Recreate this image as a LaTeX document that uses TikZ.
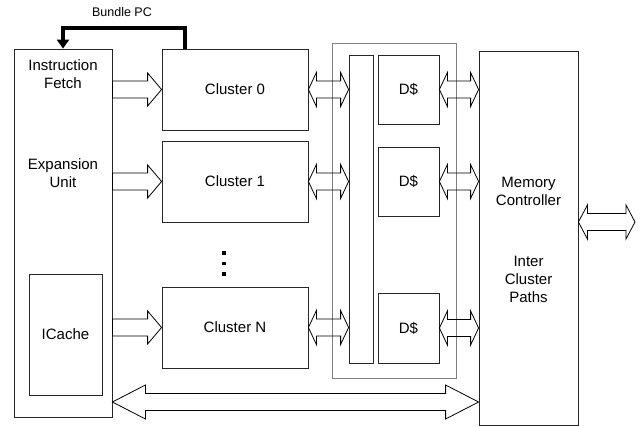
\documentclass[tikz,border=0pt]{standalone}
\usepackage{fontspec}
\setmainfont{Liberation Sans}
\usetikzlibrary{calc}
\usetikzlibrary{arrows.meta}

\tikzset{
  blk/.style={draw=black!85, line width=0.8pt, inner sep=0pt},
  txt/.style={align=center, font=\fontsize{15}{18}\selectfont},
  fatsingle/.style={draw=black, line width=0.8pt, line join=miter, to path={
    let \p1=(\tikztostart), \p2=(\tikztotarget) in
    (\x1,\y1+8.5pt) -- (\x2-#1,\y1+8.5pt) -- (\x2-#1,\y1+16.5pt) -- (\x2,\y1)
    -- (\x2-#1,\y1-16.5pt) -- (\x2-#1,\y1-8.5pt) -- (\x1,\y1-8.5pt) -- cycle}},
  fatdouble/.style={draw=black, line width=0.8pt, line join=miter, to path={
    let \p1=(\tikztostart), \p2=(\tikztotarget) in
    (\x1,\y1) -- (\x1+#1,\y1+17pt) -- (\x1+#1,\y1+8.5pt) -- (\x2-#1,\y1+8.5pt)
    -- (\x2-#1,\y1+17pt) -- (\x2,\y1) -- (\x2-#1,\y1-17pt) -- (\x2-#1,\y1-8.5pt)
    -- (\x1+#1,\y1-8.5pt) -- (\x1+#1,\y1-17pt) -- cycle}}
}

\begin{document}
\begin{tikzpicture}[x=1pt, y=-1pt]
  \useasboundingbox (0,0) rectangle (642,426);

  % front end
  \node[blk, minimum width=98, minimum height=368] (ifu) at (63,233) {};
  \node[txt] (fetchtxt) at (63,74.5) {Instruction\\Fetch};
  \node[txt] (expandtxt) at (63,173.5) {Expansion\\Unit};
  \node[blk, txt, minimum width=73, minimum height=121] (icache) at (65.5,334.5) {ICache};

  % clusters
  \node[blk, txt, minimum width=146, minimum height=81] (c0) at (235,89.5) {Cluster 0};
  \node[blk, txt, minimum width=146, minimum height=81] (c1) at (235,181.5) {Cluster 1};
  \node[blk, txt, minimum width=146, minimum height=81] (cN) at (235,327.5) {Cluster N};
  \foreach \y in {253,263.5,274}
    \fill (222.25,\y-1.75) rectangle ++(3.5,3.5);

  % data caches
  \node[draw=black!50, line width=0.8pt, minimum width=124, minimum height=335] (dbank) at (394,210.5) {};
  \node[blk, minimum width=24, minimum height=308] (xbar) at (361,209) {};
  \node[blk, txt, minimum width=61, minimum height=69] (d0) at (408.5,89.5) {D\$};
  \node[blk, txt, minimum width=61, minimum height=69] (d1) at (408.5,181.5) {D\$};
  \node[blk, txt, minimum width=61, minimum height=70] (dN) at (408.5,328) {D\$};

  % memory controller
  \node[blk, minimum width=99, minimum height=374] (mc) at (528.5,238) {};
  \node[txt] (mctxt) at (528.5,191) {Memory\\Controller};
  \node[txt] (pathtxt) at (528.5,279) {Inter\\Cluster\\Paths};

  \coordinate (bus) at (0,402);
  \coordinate (ext) at (635,222);
  \coordinate (pcout) at (185,49);

  % block arrows
  \foreach \c in {c0,c1,cN}
    \draw[fatsingle=14pt] (ifu.east |- \c) to (\c.west);
  \foreach \c in {c0,c1,cN}
    \draw[fatdouble=8pt] (\c.east) to (xbar.west |- \c);
  \foreach \d in {d0,d1,dN}
    \draw[fatdouble=8pt] (\d.east) to (mc.west |- \d);
  \draw[fatdouble=33pt] (ifu.east |- bus) to (mc.west |- bus);
  \draw[fatdouble=9pt] (mc.east |- ext) to (ext);

  % bundle pc
  \draw[line width=3.5pt, -{Triangle[length=9pt, width=12pt]}] (pcout) -- ++(0,-21) -| (ifu.north);
  \node[font=\fontsize{12.5}{15}\selectfont] (pclabel) at (122,12) {Bundle PC};
\end{tikzpicture}
\end{document}
